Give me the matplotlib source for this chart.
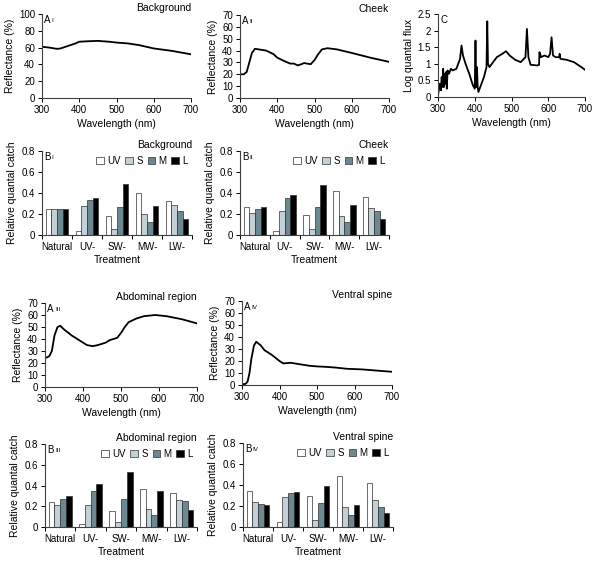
import numpy as np
import matplotlib
matplotlib.use("Agg")
import matplotlib.pyplot as plt
from matplotlib.ticker import FuncFormatter, FixedLocator

plt.rcParams['font.family'] = ['Liberation Sans', 'DejaVu Sans']
plt.rcParams['font.size'] = 7

# spectra
bg_wl = [300, 320, 340, 350, 370, 390, 400, 420, 450, 480, 500, 530, 560, 600, 650, 700]
bg_refl = [61, 60, 58.5, 59, 62, 65, 67, 67.5, 68, 67, 66, 65, 63, 59, 56, 52]

ck_wl = [300, 310, 318, 325, 332, 340, 350, 370, 390, 400, 420, 435, 445, 455, 465, 472,
         480, 490, 500, 510, 520, 535, 560, 600, 650, 700]
ck_refl = [20, 20, 22, 30, 38, 41.5, 41, 40, 37, 34, 31, 29, 29, 27.5, 28.5, 29.5,
           29, 28.5, 32, 37, 41, 42, 41, 38, 34, 30.5]

fl_wl = [300, 305, 308, 310, 312, 314, 316, 318, 320, 322, 324, 326, 330, 335, 340, 350,
         360, 364, 368, 375, 385, 395, 400, 402, 404, 406, 408, 410, 415, 425, 432, 434,
         436, 440, 450, 460, 475, 485, 495, 510, 525, 538, 542, 546, 552, 570, 575, 576,
         578, 580, 590, 600, 605, 609, 613, 620, 630, 631, 633, 650, 670, 690, 700]
fl_val = [0.05, 0.4, 0.2, 0.6, 0.3, 0.85, 0.3, 0.7, 0.4, 0.75, 0.25, 0.8, 0.7, 0.85, 0.8, 0.85,
          1.15, 1.55, 1.25, 1.0, 0.7, 0.35, 0.25, 1.7, 0.3, 0.9, 0.3, 0.15, 0.3, 0.6, 0.9, 2.28,
          1.0, 0.9, 1.05, 1.2, 1.3, 1.38, 1.25, 1.12, 1.05, 1.2, 2.05, 1.2, 0.97, 0.95, 0.97, 1.35,
          1.3, 1.2, 1.25, 1.2, 1.3, 1.8, 1.25, 1.2, 1.2, 1.3, 1.15, 1.12, 1.05, 0.9, 0.82]

ab_wl = [300, 305, 312, 318, 325, 333, 340, 350, 370, 400, 410, 425, 440, 460, 470, 480,
         490, 500, 510, 520, 540, 560, 590, 620, 660, 700]
ab_refl = [25, 24.5, 26, 30, 43, 50, 51, 48, 43, 37, 35, 34, 35, 37, 39, 40,
           41, 45, 50, 54, 57, 59, 60, 59, 56.5, 53]

vs_wl = [300, 310, 315, 320, 325, 332, 338, 350, 360, 380, 400, 410, 430, 450, 480, 500,
         530, 550, 580, 620, 660, 700]
vs_refl = [0.5, 1, 3, 10, 22, 33, 36, 33, 29, 25, 20, 18, 18.5, 17.5, 16, 15.5,
           15, 14.5, 13.5, 13, 12, 11]

# relative quantal catch: rows = treatment, cols = UV, S, M, L
treatments = ["Natural", "UV-", "SW-", "MW-", "LW-"]
cones = ["UV", "S", "M", "L"]
catch_bg = [[0.25, 0.25, 0.25, 0.25], [0.04, 0.28, 0.33, 0.35], [0.18, 0.06, 0.27, 0.49],
            [0.40, 0.20, 0.12, 0.28], [0.32, 0.29, 0.23, 0.15]]
catch_ck = [[0.27, 0.21, 0.25, 0.27], [0.04, 0.23, 0.35, 0.38], [0.19, 0.06, 0.27, 0.48],
            [0.42, 0.18, 0.12, 0.29], [0.36, 0.26, 0.23, 0.15]]
catch_ab = [[0.24, 0.21, 0.27, 0.30], [0.03, 0.21, 0.35, 0.41], [0.15, 0.05, 0.27, 0.53],
            [0.37, 0.17, 0.12, 0.35], [0.33, 0.26, 0.25, 0.16]]
catch_vs = [[0.34, 0.24, 0.22, 0.21], [0.05, 0.29, 0.32, 0.33], [0.30, 0.07, 0.23, 0.39],
            [0.49, 0.19, 0.11, 0.21], [0.42, 0.26, 0.19, 0.13]]
bar_colors = ["white", "#c3d0d8", "#6c8891", "black"]

W, H = 600, 561
fig = plt.figure(figsize=(W / 100, H / 100), dpi=100)


def ax_at(l, t, r, b):
    return fig.add_axes([l / W, 1 - b / H, (r - l) / W, (b - t) / H])


def style(ax):
    ax.spines['top'].set_visible(False)
    ax.spines['right'].set_visible(False)
    for s in ('left', 'bottom'):
        ax.spines[s].set_linewidth(0.8)
        ax.spines[s].set_color('#404040')
    ax.tick_params(direction='out', length=3, width=0.7, labelsize=7, pad=2)


fmt = FuncFormatter(lambda v, p: "%g" % round(v, 2))


def spectrum(ax, x, y, ymax, ystep, label, sub, title, ylabel="Reflectance (%)"):
    style(ax)
    ax.plot(x, y, color='black', lw=1.3)
    ax.set_xlim(300, 700)
    ax.set_ylim(0, ymax)
    ax.set_xticks([300, 400, 500, 600, 700])
    ax.set_yticks(np.arange(0, ymax + 1e-9, ystep))
    ax.yaxis.set_major_formatter(fmt)
    ax.set_xlabel("Wavelength (nm)", fontsize=7.5, labelpad=3)
    ax.set_ylabel(ylabel, fontsize=7.5, labelpad=3)
    ax.text(0.015, 0.99, label, transform=ax.transAxes, va='top', ha='left', fontsize=7)
    if sub:
        ax.text(0.065, 0.95, sub, transform=ax.transAxes, va='top', ha='left', fontsize=4.5)
    if title:
        ax.set_title(title, loc='right', fontsize=7.5, pad=2)


def bars(ax, data, label, sub, title):
    style(ax)
    data = np.array(data)
    x = np.arange(len(treatments))
    w = 0.19
    for j in range(len(cones)):
        ax.bar(x + (j - 1.5) * w, data[:, j], w, color=bar_colors[j], edgecolor='#303030',
               linewidth=0.5, label=cones[j])
    ax.set_xlim(-0.5, len(treatments) - 0.5)
    ax.set_ylim(0, 0.8)
    ax.set_yticks([0, 0.2, 0.4, 0.6, 0.8])
    ax.yaxis.set_major_formatter(fmt)
    ax.set_xticks(x)
    ax.set_xticklabels(treatments)
    ax.tick_params(axis='x', length=0, pad=5)
    ax.xaxis.set_minor_locator(FixedLocator(np.arange(-0.5, len(treatments), 1.0)))
    ax.tick_params(axis='x', which='minor', length=3, width=0.7, direction='out')
    ax.set_xlabel("Treatment", fontsize=7.5, labelpad=2)
    ax.set_ylabel("Relative quantal catch", fontsize=7.5, labelpad=3)
    ax.text(0.015, 0.99, label, transform=ax.transAxes, va='top', ha='left', fontsize=7)
    ax.text(0.065, 0.95, sub, transform=ax.transAxes, va='top', ha='left', fontsize=4.5)
    ax.set_title(title, loc='right', fontsize=7.5, pad=2)
    ax.legend(loc='upper right', ncol=4, frameon=False, fontsize=7, handlelength=0.8,
              handleheight=0.8, handletextpad=0.3, columnspacing=0.5,
              borderaxespad=0.1, bbox_to_anchor=(1.0, 1.0))


spectrum(ax_at(42, 14, 191, 98), bg_wl, bg_refl, 100, 20, "A", "I", "Background")
spectrum(ax_at(240, 15, 389, 98), ck_wl, ck_refl, 70, 10, "A", "II", "Cheek")
spectrum(ax_at(438, 14, 585, 97), fl_wl, fl_val, 2.5, 0.5, "C", "", "",
         ylabel="Log quantal flux")
bars(ax_at(42, 151, 192, 235), catch_bg, "B", "I", "Background")
bars(ax_at(240, 151, 389, 235), catch_ck, "B", "II", "Cheek")
spectrum(ax_at(45, 303, 197, 387), ab_wl, ab_refl, 70, 10, "A", "III", "Abdominal region")
spectrum(ax_at(242, 301, 392, 385), vs_wl, vs_refl, 70, 10, "A", "IV", "Ventral spine")
bars(ax_at(45, 444, 197, 527), catch_ab, "B", "III", "Abdominal region")
bars(ax_at(243, 443, 393, 527), catch_vs, "B", "IV", "Ventral spine")

fig.savefig("out.png", dpi=100)
